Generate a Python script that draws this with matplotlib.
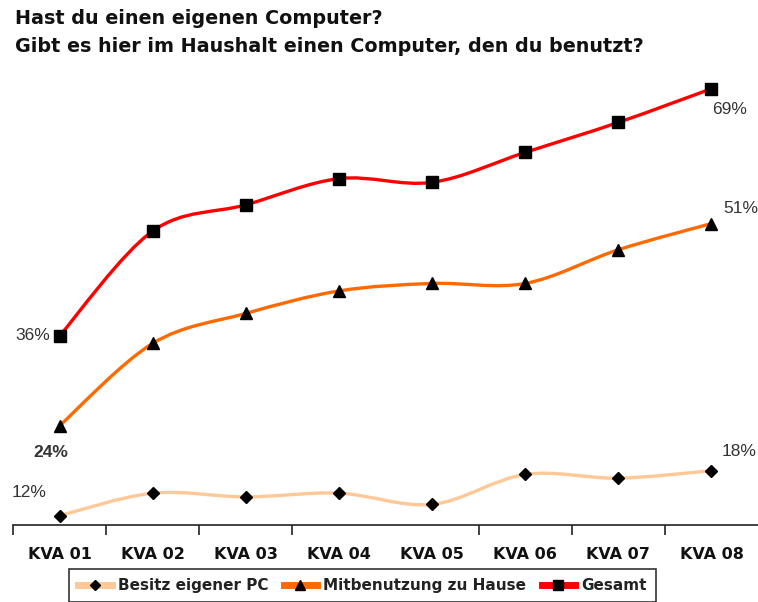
import numpy as np
import matplotlib
matplotlib.use("Agg")
import matplotlib.pyplot as plt
from matplotlib.path import Path
from matplotlib.patches import PathPatch
from matplotlib.lines import Line2D

# data
wellen = ["KVA 01", "KVA 02", "KVA 03", "KVA 04", "KVA 05", "KVA 06", "KVA 07", "KVA 08"]
besitz = [12, 15, 14.5, 15, 13.5, 17.5, 17, 18]
mitbenutzung = [24, 35, 39, 42, 43, 43, 47.5, 51]
gesamt = [36, 50, 53.5, 57, 56.5, 60.5, 64.5, 69]

serien = [
    ("Besitz eigener PC", besitz, "#FFC896", "D", 6),
    ("Mitbenutzung zu Hause", mitbenutzung, "#FF6A00", "^", 8),
    ("Gesamt", gesamt, "#FF0000", "s", 8),
]


def glatte_kurve(ax, xs, ys, farbe):
    # Excel-artige Glaettung: Bezier-Segmente zwischen den Punkten
    pts = np.column_stack([xs, ys]).astype(float)
    n = len(pts)
    verts = [pts[0]]
    codes = [Path.MOVETO]
    for i in range(n - 1):
        p0 = pts[max(i - 1, 0)]
        p1 = pts[i]
        p2 = pts[i + 1]
        p3 = pts[min(i + 2, n - 1)]
        c1 = p1 + (p2 - p0) / 6.0
        c2 = p2 - (p3 - p1) / 6.0
        verts += [c1, c2, p2]
        codes += [Path.CURVE4] * 3
    patch = PathPatch(Path(verts, codes), facecolor="none", edgecolor=farbe,
                      lw=2.4, capstyle="round", zorder=2)
    ax.add_patch(patch)


fig = plt.figure(figsize=(7.58, 6.02), dpi=100)
ax = fig.add_axes([13 / 758, 1 - 525 / 602, 745 / 758, (525 - 70) / 602])

x = np.arange(len(wellen))
for name, werte, farbe, marker, ms in serien:
    glatte_kurve(ax, x, werte, farbe)
    ax.plot(x, werte, linestyle="none", marker=marker, color="black",
            markersize=ms, zorder=3)

ax.set_xlim(-0.5, len(wellen) - 0.5)
ax.set_ylim(10.75, 71.5)

for s in ["left", "right", "top"]:
    ax.spines[s].set_visible(False)
ax.spines["bottom"].set_color("#222222")
ax.spines["bottom"].set_linewidth(1.2)
ax.set_yticks([])
ax.set_xticks(x)
ax.set_xticklabels(wellen, fontsize=11.5, fontweight="bold", color="#111111")
ax.tick_params(axis="x", which="major", length=0, pad=16)
# Trennstriche zwischen den Wellen (im Original fehlt einer zwischen 04 und 05)
ax.set_xticks([-0.5, 0.5, 1.5, 2.5, 4.5, 5.5, 6.5], minor=True)
ax.tick_params(axis="x", which="minor", length=7, width=1.2, color="#222222")

lab = dict(fontsize=12.5, color="#333333", family="Liberation Sans")
ax.annotate("36%", (0, gesamt[0]), xytext=(-7, 0), textcoords="offset points",
            ha="right", va="center", **lab)
ax.annotate("24%", (0, mitbenutzung[0]), xytext=(-6, -19), textcoords="offset points",
            ha="center", va="center", fontweight="bold", **lab)
ax.annotate("12%", (0, besitz[0]), xytext=(-22, 17), textcoords="offset points",
            ha="center", va="center", **lab)
ax.annotate("69%", (7, gesamt[-1]), xytext=(13, -15), textcoords="offset points",
            ha="center", va="center", **lab)
ax.annotate("51%", (7, mitbenutzung[-1]), xytext=(21, 11), textcoords="offset points",
            ha="center", va="center", **lab)
ax.annotate("18%", (7, besitz[-1]), xytext=(20, 14), textcoords="offset points",
            ha="center", va="center", **lab)

fig.text(15 / 758, 1 - 18 / 602, "Hast du einen eigenen Computer?",
         fontsize=13.8, fontweight="bold", color="#111111", va="center")
fig.text(15 / 758, 1 - 46 / 602, "Gibt es hier im Haushalt einen Computer, den du benutzt?",
         fontsize=13.8, fontweight="bold", color="#111111", va="center")

handles = [Line2D([], [], color=f, lw=5, marker=m, markersize=ms - 1,
                  markerfacecolor="black", markeredgecolor="black")
           for _, _, f, m, ms in serien]
leg = fig.legend(handles, [s[0] for s in serien], loc="upper left",
                 bbox_to_anchor=(69 / 758, 1 - 569 / 602), bbox_transform=fig.transFigure,
                 ncol=3, frameon=True, fancybox=False, edgecolor="black",
                 prop=dict(size=11, weight="bold"), handlelength=2.2, handletextpad=0.4,
                 columnspacing=1.0, borderpad=0.6, borderaxespad=0)
leg.get_frame().set_linewidth(1.2)
for t in leg.get_texts():
    t.set_color("#222222")

fig.savefig("out.png", dpi=100)
